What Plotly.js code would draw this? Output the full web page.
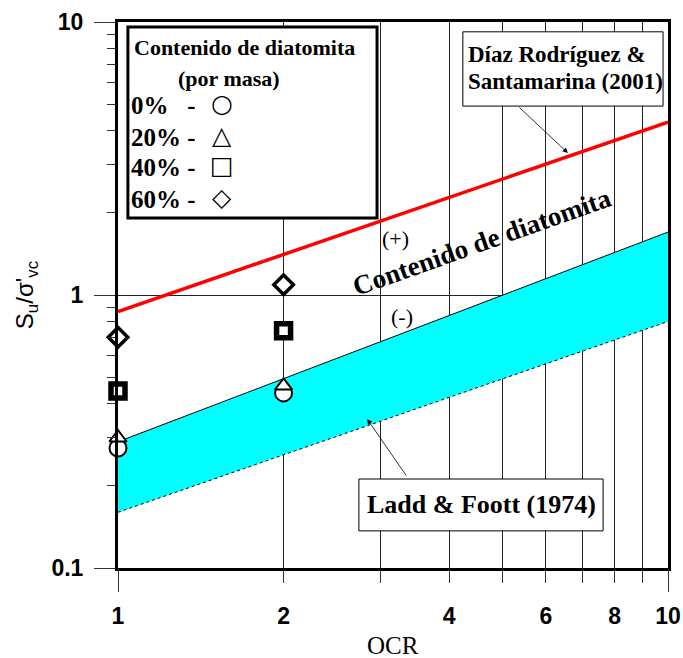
<!DOCTYPE html>
<html>
<head>
<meta charset="utf-8">
<script src="https://cdn.plot.ly/plotly-3.0.1.min.js"></script>
<style>html,body{margin:0;padding:0;background:#fff;}#chart{width:683px;height:658px;}</style>
</head>
<body>
<div id="chart"></div>
<script>
// Data
const ocrPoints = [1, 2];
const su0 = [0.275, 0.438];   // 0% diatomita
const su20 = [0.30, 0.465];   // 20%
const su40 = [0.445, 0.74];   // 40%
const su60 = [0.70, 1.09];    // 60%

const ocrLine = [1, 10];
const diazLine = [0.87, 4.3];     // Díaz Rodríguez & Santamarina (2001)
const laddUpper = [0.29, 1.70];   // Ladd & Foott (1974) upper
const laddLower = [0.16, 0.80];   // Ladd & Foott (1974) lower

const xTickVals = [1, 2, 4, 6, 8, 10];
const xTickText = ['1', '2', '4', '6', '8', '10'];
const xMinorVals = [3, 5, 7, 9];
const xLongTicks = [1, 10];
const yTickVals = [0.1, 1, 10];
const yTickText = ['0.1', '1', '10'];
const yMinorVals = [0.2,0.3,0.4,0.5,0.6,0.7,0.8,0.9,2,3,4,5,6,7,8,9];

const legendItems = ['0%\u00a0\u00a0\u00a0-', '20% -', '40% -', '60% -'];
const legendSymbols = ['\u25CB', '\u25B3', '\u25A1', '\u25C7'];

const serif = 'Liberation Serif, Times New Roman, serif';
const sans = 'Liberation Sans, Arial, sans-serif';

const traces = [
  {x: ocrLine, y: laddLower, mode: 'lines', line: {color: 'black', width: 1, dash: 'dot'}, hoverinfo: 'skip'},
  {x: ocrLine, y: laddUpper, mode: 'lines', line: {color: 'black', width: 1}, fill: 'tonexty', fillcolor: '#00FFFF', hoverinfo: 'skip'},
  {x: ocrLine, y: diazLine, mode: 'lines', line: {color: '#FF0000', width: 3.5}},
  {x: ocrPoints, y: su0, mode: 'markers', cliponaxis: false, marker: {symbol: 'circle', size: 17, color: 'white', line: {color: 'black', width: 2}}},
  {x: ocrPoints, y: su20, mode: 'markers', cliponaxis: false, marker: {symbol: 'triangle-up', size: 15, color: 'white', line: {color: 'black', width: 2}}},
  {x: ocrPoints, y: su40, mode: 'markers', cliponaxis: false, marker: {symbol: 'square', size: 14, color: 'white', line: {color: 'black', width: 5.5}}},
  {x: ocrPoints, y: su60, mode: 'markers', cliponaxis: false, marker: {symbol: 'diamond', size: 15, color: 'white', line: {color: 'black', width: 3.5}}},
  // invisible trace to carry the longer ticks at OCR = 1 and 10
  {x: xLongTicks, y: [1, 1], xaxis: 'x2', mode: 'markers', marker: {opacity: 0}, hoverinfo: 'skip'}
];

const annotations = [
  {xref: 'paper', yref: 'paper', x: 0.0255, y: 0.953, text: 'Contenido de diatomita', showarrow: false, xanchor: 'left', yanchor: 'middle', font: {family: serif, size: 22, color: 'black', weight: 'bold'}},
  {xref: 'paper', yref: 'paper', x: 0.202, y: 0.897, text: '(por masa)', showarrow: false, xanchor: 'center', yanchor: 'middle', font: {family: serif, size: 22, color: 'black', weight: 'bold'}},
  {xref: 'paper', yref: 'paper', x: 0.662, y: 0.597, text: 'Contenido de diatomita', textangle: -19.5, showarrow: false, xanchor: 'center', yanchor: 'middle', font: {family: serif, size: 27, color: 'black', weight: 'bold'}},
  {xref: 'paper', yref: 'paper', x: 0.505, y: 0.604, text: '(+)', showarrow: false, xanchor: 'center', yanchor: 'middle', font: {family: serif, size: 22, color: 'black'}},
  {xref: 'paper', yref: 'paper', x: 0.516, y: 0.4615, text: '(-)', showarrow: false, xanchor: 'center', yanchor: 'middle', font: {family: serif, size: 22, color: 'black'}},
  {xref: 'paper', yref: 'paper', x: 0.632, y: 0.941, text: 'Díaz Rodríguez &amp;', showarrow: false, xanchor: 'left', yanchor: 'middle', font: {family: serif, size: 23, color: 'black', weight: 'bold'}},
  {xref: 'paper', yref: 'paper', x: 0.632, y: 0.891, text: 'Santamarina (2001)', showarrow: false, xanchor: 'left', yanchor: 'middle', font: {family: serif, size: 23, color: 'black', weight: 'bold'}},
  {xref: 'paper', yref: 'paper', x: 0.66, y: 0.1155, text: 'Ladd &amp; Foott (1974)', showarrow: false, xanchor: 'center', yanchor: 'middle', font: {family: serif, size: 26, color: 'black', weight: 'bold'}},
  {xref: 'paper', yref: 'paper', x: 0.818, y: 0.760, ax: -50, ay: -47, text: '', showarrow: true, arrowhead: 2, arrowsize: 1.3, arrowwidth: 0.8, arrowcolor: 'black'},
  {xref: 'paper', yref: 'paper', x: 0.453, y: 0.273, ax: 40, ay: 58, text: '', showarrow: true, arrowhead: 2, arrowsize: 1.3, arrowwidth: 0.8, arrowcolor: 'black'},
  {xref: 'paper', yref: 'paper', x: 0.5, y: -0.142, text: 'OCR', showarrow: false, xanchor: 'center', yanchor: 'middle', font: {family: serif, size: 25, color: 'black'}},
  {xref: 'paper', yref: 'paper', x: -0.167, y: 0.5, text: 'S<sub>u</sub>/σ\'<sub>vc</sub>', textangle: -90, showarrow: false, xanchor: 'center', yanchor: 'middle', font: {family: sans, size: 24, color: 'black'}}
];
const legY = [0.847, 0.789, 0.733, 0.675];
legendItems.forEach((t, i) => {
  annotations.push({xref: 'paper', yref: 'paper', x: 0.02, y: legY[i], text: t, showarrow: false, xanchor: 'left', yanchor: 'middle', font: {family: serif, size: 25, color: 'black', weight: 'bold'}});
  annotations.push({xref: 'paper', yref: 'paper', x: 0.189, y: legY[i] + 0.004, text: legendSymbols[i], showarrow: false, xanchor: 'center', yanchor: 'middle', font: {family: 'DejaVu Sans', size: 25, color: 'black'}});
});

const shapes = [
  {type: 'rect', xref: 'paper', yref: 'paper', x0: 0.018, x1: 0.471, y0: 0.641, y1: 0.991, line: {color: 'black', width: 3}, fillcolor: 'white'},
  {type: 'rect', xref: 'paper', yref: 'paper', x0: 0.627, x1: 0.991, y0: 0.846, y1: 0.982, line: {color: 'black', width: 1}, fillcolor: 'white'},
  {type: 'rect', xref: 'paper', yref: 'paper', x0: 0.438, x1: 0.882, y0: 0.068, y1: 0.163, line: {color: 'black', width: 1}, fillcolor: 'white'}
];

const layout = {
  width: 683, height: 658,
  margin: {l: 118, r: 15, t: 22, b: 90},
  paper_bgcolor: 'white', plot_bgcolor: 'white',
  showlegend: false,
  xaxis: {
    type: 'log', range: [0, 1], tickmode: 'array', tickvals: xTickVals, ticktext: xTickText,
    ticks: 'outside', ticklen: 12, tickwidth: 1, tickcolor: '#333',
    showline: true, linewidth: 3, linecolor: 'black', mirror: true,
    showgrid: true, gridcolor: '#222', gridwidth: 1, zeroline: false,
    minor: {tickmode: 'array', tickvals: xMinorVals, ticks: 'outside', ticklen: 12, tickcolor: '#333', showgrid: true, gridcolor: '#222', gridwidth: 1},
    tickfont: {family: sans, size: 23, color: 'black', weight: 'bold'}, ticklabelstandoff: 13
  },
  xaxis2: {
    type: 'log', range: [0, 1], overlaying: 'x', side: 'bottom', anchor: 'y',
    tickmode: 'array', tickvals: xLongTicks, ticks: 'outside', ticklen: 23, tickwidth: 1, tickcolor: '#333',
    showticklabels: false, showgrid: false, showline: false, zeroline: false
  },
  yaxis: {
    type: 'log', range: [-1, 1], tickmode: 'array', tickvals: yTickVals, ticktext: yTickText,
    ticks: 'outside', ticklen: 21, tickwidth: 1, tickcolor: '#333',
    showline: true, linewidth: 3, linecolor: 'black', mirror: true,
    showgrid: true, gridcolor: '#222', gridwidth: 1, zeroline: false,
    minor: {tickmode: 'array', tickvals: yMinorVals, ticks: 'outside', ticklen: 8, tickcolor: '#333', showgrid: false},
    tickfont: {family: sans, size: 23, color: 'black', weight: 'bold'}, ticklabelstandoff: 6
  },
  shapes: shapes,
  annotations: annotations
};

Plotly.newPlot('chart', traces, layout, {staticPlot: true});
</script>
</body>
</html>
